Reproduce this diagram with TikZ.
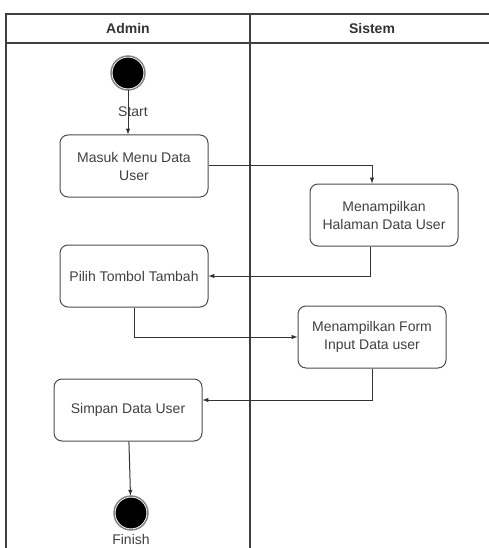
\documentclass[tikz,border=0pt]{standalone}
\usepackage{fontspec}
\setmainfont{Liberation Sans}
\begin{document}
\begin{tikzpicture}[x=1pt,y=-1pt,>=latex]
        % Styles
        \tikzstyle{lane line}=[line width=1.3pt,color=black!75]
        \tikzstyle{lane title}=[font=\bfseries\fontsize{14}{16}\selectfont,text=black!80]
        \tikzstyle{action}=[draw=black!70,line width=1pt,rounded corners=8pt,minimum width=148pt,minimum height=62pt,align=center,text=black!75,font=\fontsize{14}{18}\selectfont]
        \tikzstyle{state}=[circle,fill=black,draw=white,line width=0.8pt,double=black!50,double distance=1.4pt,minimum size=34pt,inner sep=0pt]
        \tikzstyle{state text}=[text=black!75,font=\fontsize{14}{16}\selectfont]
        \tikzstyle{flow}=[->,line width=1pt,color=black!80]
        \useasboundingbox (0,0) rectangle (489,548);
        %swimlanes
        \draw[lane line] (6,548) |- (489,14);
        \draw[lane line] (6,43) -- (489,43);
        \draw[lane line] (250,14) -- (250,548);
        \node[lane title] (admin) at (128,28) {Admin};
        \node[lane title] (sistem) at (372,28) {Sistem};
        %states
        \node[state] (init) at (128,73) {};
        \node[state text] (initlabel) at (133,112) {Start};
        \node[state] (final) at (131,513) {};
        \node[state text] (finallabel) at (131,539) {Finish};
        %actions
        \node[action] (masuk) at (134,166) {Masuk Menu Data\\User};
        \node[action] (halaman) at (384,215) {Menampilkan\\Halaman Data User};
        \node[action] (pilih) at (134,276) {Pilih Tombol Tambah};
        \node[action] (form) at (372,337) {Menampilkan Form\\Input Data user};
        \node[action] (simpan) at (128,410) {Simpan Data User};
        %flows
        \draw[flow] (init) -- (init |- masuk.north);
        \draw[flow] (masuk.east) -| ([xshift=-12pt]halaman.north);
        \draw[flow] ([xshift=-14pt]halaman.south) |- (pilih.east);
        \draw[flow] (pilih.south) |- (form.west);
        \draw[flow] (form.south) |- ([yshift=10pt]simpan.east);
        \draw[flow] (simpan) -- (final);
\end{tikzpicture}
\end{document}
